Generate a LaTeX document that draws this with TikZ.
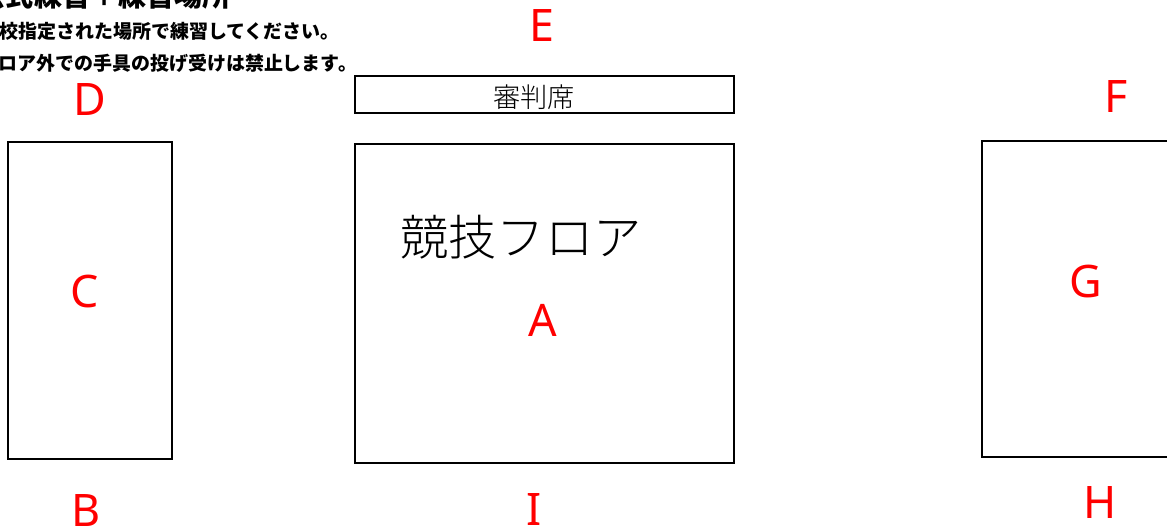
\documentclass[tikz,border=0pt]{standalone}
\usepackage{fontspec}
\setmainfont{Noto Sans}
\newfontfamily\jpfont{Noto Sans CJK JP}
\newfontfamily\jplight{Noto Sans CJK JP Light}
\tikzset{
	area/.style={draw=black,line width=1.1pt},
	mark label/.style={text=red,font=\fontsize{25.5}{28}\selectfont,inner sep=0pt},
	note/.style={font=\jpfont\bfseries\fontsize{10.8}{12}\selectfont,anchor=base west,inner sep=0pt}
}
\begin{document}
\begin{tikzpicture}[x=0.02cm,y=-0.02cm]
		\useasboundingbox (0,0) rectangle (1167,530);
		\clip (0,0) rectangle (1167,530);
		% notes, top left
		\node [note,font=\jpfont\bfseries\fontsize{16}{18}\selectfont] (title) at (-22.5,6.5) {公式練習＋練習場所};
		\node [note] (noteone) at (-1,39) {校指定された場所で練習してください。};
		\node [note] (notetwo) at (-2,71) {ロア外での手具の投げ受けは禁止します。};
		% areas
		\draw [area] (355,76) rectangle (734,113);
		\draw [area] (355,144) rectangle (734,463);
		\draw [area] (8,142.2) rectangle (172,459);
		\draw [area] (982,141) rectangle (1180,457);
		\node [font=\jplight\fontsize{15.5}{18}\selectfont,inner sep=0pt] (judge) at (534,97) {審判席};
		\node [font=\jplight\fontsize{27.5}{30}\selectfont,inner sep=0pt] (floor) at (521,237) {競技フロア};
		% area marks
		\node [mark label] (markA) at (543,320) {A};
		\node [mark label] (markB) at (86,511) {B};
		\node [mark label] (markC) at (84.5,292) {C};
		\node [mark label] (markD) at (90,100) {D};
		\node [mark label] (markE) at (541.5,26) {E};
		\node [mark label] (markF) at (1116,97) {F};
		\node [mark label] (markG) at (1086,282) {G};
		\node [mark label] (markH) at (1100.5,503) {H};
		\node [mark label] (markI) at (534,510) {I};
\end{tikzpicture}
\end{document}
